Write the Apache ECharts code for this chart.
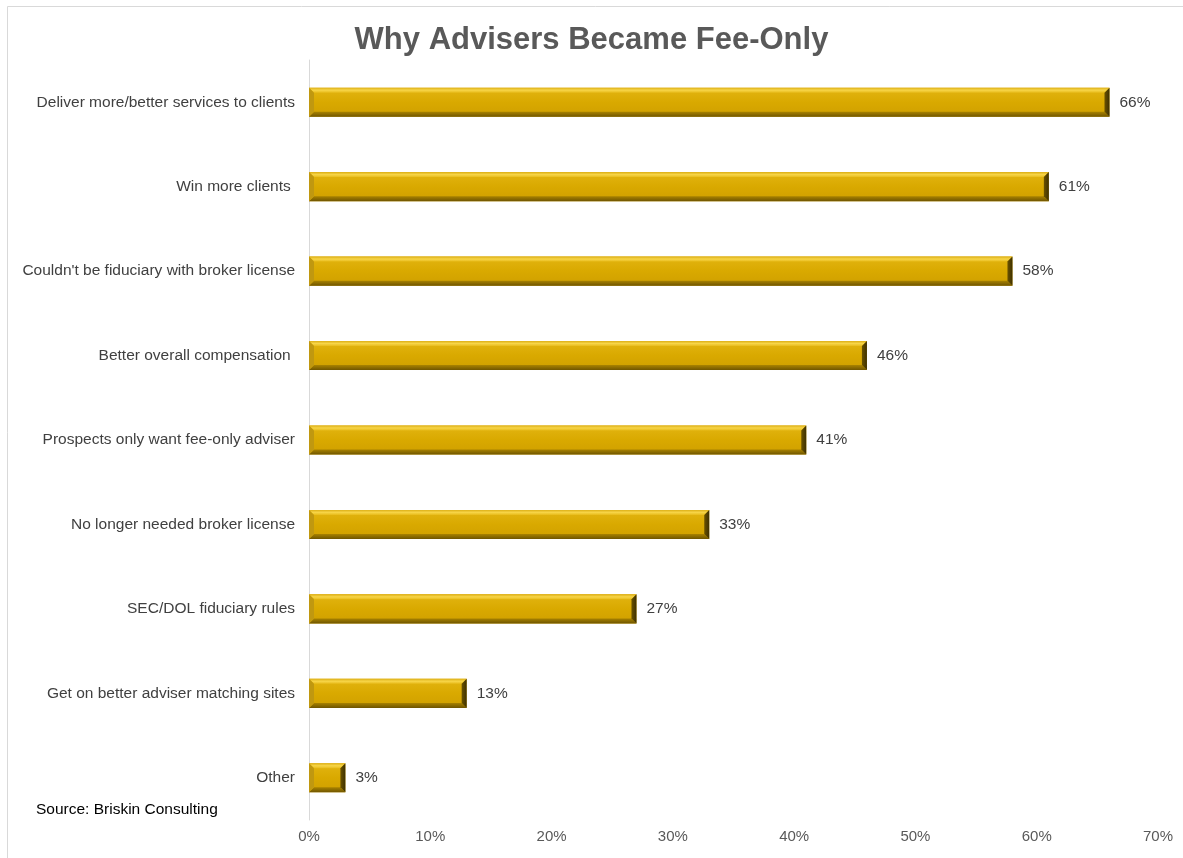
<!DOCTYPE html>
<html>
<head>
<meta charset="utf-8">
<script src="https://cdn.jsdelivr.net/npm/echarts@6/dist/echarts.min.js"></script>
<style>
  html, body { margin: 0; padding: 0; background: #ffffff; }
  #chart { width: 1183px; height: 858px; }
</style>
</head>
<body>
<div id="chart"></div>
<script>
// Survey responses: reasons advisers gave for going fee-only
const categories = [
  'Deliver more/better services to clients',
  'Win more clients ',
  "Couldn't be fiduciary with broker license",
  'Better overall compensation ',
  'Prospects only want fee-only adviser',
  'No longer needed broker license',
  'SEC/DOL fiduciary rules',
  'Get on better adviser matching sites',
  'Other'
];
const values = [66, 61, 58, 46, 41, 33, 27, 13, 3];
const xTicks = [0, 10, 20, 30, 40, 50, 60, 70];

const FONT = '"Liberation Sans", Arial, sans-serif';
const chart = echarts.init(document.getElementById('chart'), null, { renderer: 'canvas' });

// Bevelled gold bar: a face plus four trapezoid edges
function renderBevelBar(params, api) {
  const idx = api.value(1);
  const v = api.value(0);
  const p0 = api.coord([0, idx]);
  const p1 = api.coord([v, idx]);
  const band = api.size([0, 1])[1];
  const h = band * 0.345;
  const x0 = p0[0], x1 = p1[0];
  const yt = p0[1] - h / 2, yb = p0[1] + h / 2;
  const b = Math.min(5, (x1 - x0) / 3);
  const children = [
    { type: 'rect', shape: { x: x0, y: yt, width: x1 - x0, height: h },
      style: { fill: new echarts.graphic.LinearGradient(0, 0, 0, 1, [
        { offset: 0, color: '#e3b512' }, { offset: 0.5, color: '#d9a900' }, { offset: 1, color: '#cf9f00' }
      ]) } },
    // top edge
    { type: 'polygon', shape: { points: [[x0, yt], [x1, yt], [x1 - b, yt + b], [x0 + b, yt + b]] },
      style: { fill: new echarts.graphic.LinearGradient(0, 0, 0, 1, [
        { offset: 0, color: '#dcae14' }, { offset: 0.5, color: '#f7d548' }, { offset: 1, color: '#e8bc1c' }
      ]) } },
    // bottom edge
    { type: 'polygon', shape: { points: [[x0 + b, yb - b], [x1 - b, yb - b], [x1, yb], [x0, yb]] },
      style: { fill: new echarts.graphic.LinearGradient(0, 0, 0, 1, [
        { offset: 0, color: '#a88200' }, { offset: 1, color: '#6f5500' }
      ]) } },
    // left edge
    { type: 'polygon', shape: { points: [[x0, yt], [x0 + b, yt + b], [x0 + b, yb - b], [x0, yb]] },
      style: { fill: '#c09810' } },
    // right edge
    { type: 'polygon', shape: { points: [[x1, yt], [x1, yb], [x1 - b, yb - b], [x1 - b, yt + b]] },
      style: { fill: new echarts.graphic.LinearGradient(0, 0, 1, 0, [
        { offset: 0, color: '#6a5200' }, { offset: 1, color: '#3e3000' }
      ]) } },
    { type: 'text', style: { x: x1 + 10, y: p0[1], text: v + '%', fill: '#404040',
      font: '15.5px ' + FONT, verticalAlign: 'middle', align: 'left' } }
  ];
  return { type: 'group', children: children };
}

chart.setOption({
  backgroundColor: '#ffffff',
  animation: false,
  title: {
    text: 'Why Advisers Became Fee-Only',
    left: 'center',
    top: 20,
    textStyle: { fontFamily: FONT, fontSize: 31, fontWeight: 'bold', color: '#595959' }
  },
  grid: { left: 309, right: 25, top: 60, bottom: 38, containLabel: false },
  xAxis: {
    type: 'value',
    min: 0, max: 70, interval: 10,
    axisLine: { show: false },
    axisTick: { show: false },
    splitLine: { show: false },
    axisLabel: {
      formatter: v => (xTicks.indexOf(v) >= 0 ? v + '%' : ''),
      color: '#595959', fontSize: 15, margin: 9, fontFamily: FONT
    }
  },
  yAxis: {
    type: 'category',
    data: categories,
    inverse: true,
    axisLine: { show: true, lineStyle: { color: '#d9d9d9', width: 1 } },
    axisTick: { show: false },
    axisLabel: { color: '#404040', fontSize: 15.5, margin: 14, fontFamily: FONT }
  },
  series: [{
    type: 'custom',
    renderItem: renderBevelBar,
    encode: { x: 0, y: 1 },
    data: values.map((v, i) => [v, i])
  }],
  graphic: [
    { type: 'polyline', shape: { points: [[7.5, 858], [7.5, 6.5], [1183, 6.5]] },
      style: { stroke: '#d9d9d9', lineWidth: 1, fill: null }, silent: true },
    { type: 'text', left: 36, top: 802,
      style: { text: 'Source: Briskin Consulting', fill: '#000000', font: '15.5px ' + FONT } }
  ]
});
</script>
</body>
</html>
